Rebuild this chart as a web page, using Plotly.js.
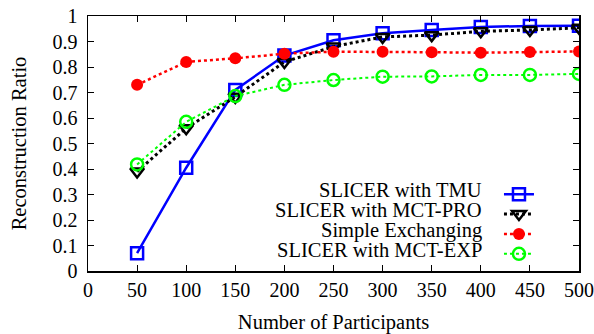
<!DOCTYPE html>
<html><head><meta charset="utf-8">
<script src="https://cdn.plot.ly/plotly-3.0.1.min.js"></script>
<style>body{margin:0;padding:0;background:#fff}#chart{width:594px;height:334px}</style>
</head><body><div id="chart"></div>
<script>
const participants = [50, 100, 150, 200, 250, 300, 350, 400, 450, 500];
const tmu     = [0.07, 0.405, 0.71, 0.845, 0.905, 0.932, 0.945, 0.957, 0.961, 0.962];
const mctPro  = [0.39, 0.56, 0.683, 0.82, 0.88, 0.918, 0.925, 0.94, 0.945, 0.954];
const simple  = [0.73, 0.82, 0.834, 0.852, 0.86, 0.86, 0.858, 0.856, 0.859, 0.861];
const mctExp  = [0.418, 0.585, 0.686, 0.73, 0.749, 0.762, 0.763, 0.769, 0.769, 0.773];
const seriesNames = ["SLICER with TMU", "SLICER with MCT-PRO", "Simple Exchanging", "SLICER with MCT-EXP"];
const xTicks = [0, 50, 100, 150, 200, 250, 300, 350, 400, 450, 500];
const yTicks = [0, 0.1, 0.2, 0.3, 0.4, 0.5, 0.6, 0.7, 0.8, 0.9, 1];

const font = "Liberation Serif, Times New Roman, serif";
const traces = [
  {x: participants, y: tmu, mode: 'lines+markers', name: ' ',
   line: {color: '#0000ff', width: 2.5},
   marker: {symbol: 'square-open', size: 12, color: '#0000ff', line: {width: 2.5}}},
  {x: participants, y: mctPro, mode: 'lines+markers', name: ' ',
   line: {color: '#000000', width: 3, dash: 'dot'},
   marker: {symbol: 'triangle-down-open', size: 12, color: '#000000', line: {width: 2.5}}},
  {x: participants, y: simple, mode: 'lines+markers', name: ' ',
   line: {color: '#ff0000', width: 2.5, dash: 'dot'},
   marker: {symbol: 'circle', size: 12, color: '#ff0000'}},
  {x: participants, y: mctExp, mode: 'lines+markers', name: ' ',
   line: {color: '#00ff00', width: 2, dash: 'dot'},
   marker: {symbol: 'circle-open', size: 12, color: '#00ff00', line: {width: 2.5}}}
];

const legendRowsY = [0.318, 0.238, 0.160, 0.082];
const annotations = seriesNames.map((n, i) => ({
  xref: 'paper', yref: 'paper', x: 0.807, y: legendRowsY[i],
  xanchor: 'right', yanchor: 'middle', text: n, showarrow: false,
  font: {family: font, size: 20.5, color: '#000'}
}));

const axisCommon = {
  showgrid: false, zeroline: false, showline: true, mirror: 'ticks',
  linecolor: '#000', linewidth: 1.5, ticks: 'inside', ticklen: 6, tickwidth: 1, tickcolor: '#000',
  tickfont: {family: font, size: 20, color: '#000'}
};

const layout = {
  width: 594, height: 334,
  margin: {l: 88, r: 15, t: 16, b: 63},
  paper_bgcolor: '#fff', plot_bgcolor: '#fff',
  showlegend: true,
  legend: {x: 0.837, xanchor: 'left', y: 0.36, yanchor: 'top', bgcolor: 'rgba(0,0,0,0)',
           font: {family: font, size: 13}, tracegroupgap: 0},
  xaxis: Object.assign({}, axisCommon, {range: [0, 500], tickvals: xTicks, ticktext: xTicks.map(String),
    title: {text: 'Number of Participants', font: {family: font, size: 20.5, color: '#000'}, standoff: 16}}),
  yaxis: Object.assign({}, axisCommon, {range: [0, 1], tickvals: yTicks, ticktext: yTicks.map(String),
    ticklabelstandoff: 5,
    title: {text: 'Reconstruction Ratio', font: {family: font, size: 20.5, color: '#000'}, standoff: 20}}),
  annotations: annotations
};
Plotly.newPlot('chart', traces, layout, {displayModeBar: false, staticPlot: true});
</script></body></html>
